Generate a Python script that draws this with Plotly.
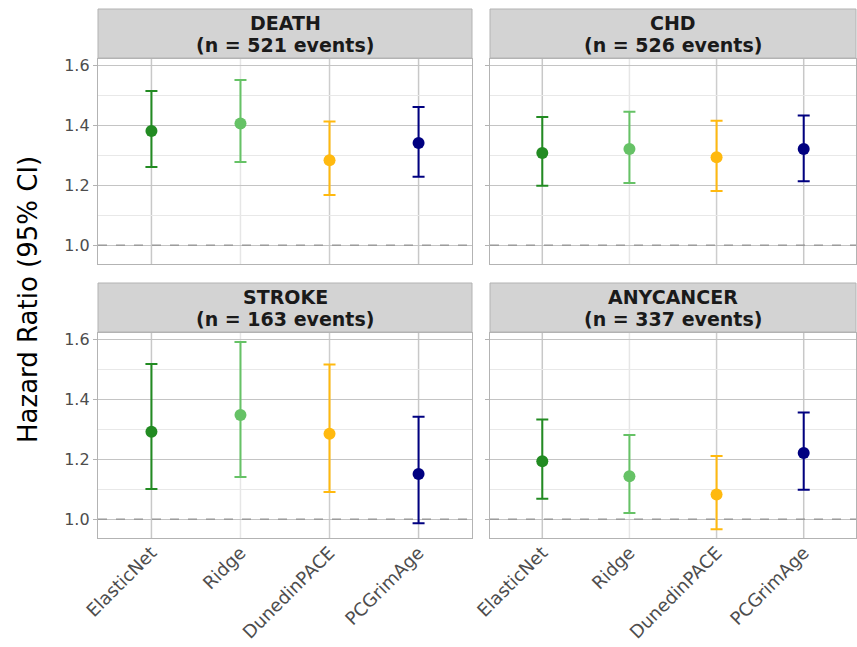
import plotly.graph_objects as go

models = ["ElasticNet", "Ridge", "DunedinPACE", "PCGrimAge"]
colors = ["#228B22", "#66C266", "#FFB90F", "#000080"]
outcomes = ["DEATH", "CHD", "STROKE", "ANYCANCER"]
events = [521, 526, 163, 337]

hr_death = [1.380, 1.405, 1.283, 1.340]
lo_death = [1.260, 1.277, 1.167, 1.228]
hi_death = [1.513, 1.550, 1.412, 1.460]

hr_chd = [1.307, 1.320, 1.293, 1.320]
lo_chd = [1.198, 1.207, 1.180, 1.213]
hi_chd = [1.427, 1.444, 1.414, 1.432]

hr_stroke = [1.291, 1.347, 1.284, 1.150]
lo_stroke = [1.100, 1.140, 1.090, 0.986]
hi_stroke = [1.517, 1.590, 1.515, 1.341]

hr_cancer = [1.193, 1.143, 1.082, 1.220]
lo_cancer = [1.068, 1.020, 0.966, 1.098]
hi_cancer = [1.332, 1.280, 1.210, 1.355]

hrs = [hr_death, hr_chd, hr_stroke, hr_cancer]
los = [lo_death, lo_chd, lo_stroke, lo_cancer]
his = [hi_death, hi_chd, hi_stroke, hi_cancer]

vgrid_colors = ["#c8c8c8", "#e6e6e6", "#cdcdcd", "#c8c8c8"]

W, H = 857, 647
xdom = [(98 / W, 472 / W), (490 / W, 856 / W)]
plot_px = [(59, 264), (333, 538)]
strip_px = [(9, 58), (283, 332)]
line_px = [(23, 45), (297, 319)]

fig = go.Figure()
shapes = []
annotations = []

for k in range(4):
    r, c = divmod(k, 2)
    idx = k + 1
    xa = "x" if idx == 1 else f"x{idx}"
    ya = "y" if idx == 1 else f"y{idx}"
    for m in range(4):
        shapes.append(dict(type="line", xref=xa, yref=f"{ya} domain",
                           x0=m, x1=m, y0=0, y1=1,
                           line=dict(color=vgrid_colors[m], width=1.5),
                           layer="below"))
        fig.add_trace(go.Scatter(
            x=[m], y=[hrs[k][m]], xaxis=xa, yaxis=ya, mode="markers",
            marker=dict(color=colors[m], size=12),
            error_y=dict(type="data", symmetric=False,
                         array=[his[k][m] - hrs[k][m]],
                         arrayminus=[hrs[k][m] - los[k][m]],
                         color=colors[m], thickness=2, width=6),
            showlegend=False, hoverinfo="skip"))
    y0 = 1 - plot_px[r][1] / H
    y1 = 1 - plot_px[r][0] / H
    xkey = "xaxis" if idx == 1 else f"xaxis{idx}"
    ykey = "yaxis" if idx == 1 else f"yaxis{idx}"
    fig.update_layout(**{
        xkey: dict(domain=list(xdom[c]), anchor=ya, range=[-0.6, 3.6],
                   automargin=False,
                   tickmode="array", tickvals=list(range(4)),
                   ticktext=models if r == 1 else [""] * 4,
                   showticklabels=(r == 1), tickangle=-45,
                   ticklabelstandoff=-4,
                   tickfont=dict(size=18, color="#4d4d4d", family="DejaVu Sans"),
                   showgrid=False,
                   zeroline=False, showline=True, linecolor="#b3b3b3",
                   linewidth=1.3, mirror=True, ticks=""),
        ykey: dict(domain=[y0, y1], anchor=xa, range=[0.937, 1.62],
                   automargin=False,
                   tickmode="array", tickvals=[1.0, 1.2, 1.4, 1.6],
                   ticktext=["1.0", "1.2", "1.4", "1.6"],
                   showticklabels=(c == 0),
                   tickfont=dict(size=16, color="#4d4d4d", family="DejaVu Sans"),
                   showgrid=True, gridcolor="#c4c4c4", gridwidth=1.2,
                   minor=dict(tickvals=[1.1, 1.3, 1.5], showgrid=True,
                              gridcolor="#e8e8e8", gridwidth=1.2),
                   zeroline=False, showline=True, linecolor="#b3b3b3",
                   linewidth=1.3, mirror=True, ticks="outside",
                   ticklen=4, tickcolor="#b3b3b3"),
    })
    shapes.append(dict(type="line", xref=f"{xa} domain", yref=ya,
                       x0=0, x1=1, y0=1.0, y1=1.0,
                       line=dict(color="#808080", width=1, dash="dash"),
                       layer="above"))
    sy0 = 1 - strip_px[r][1] / H
    sy1 = 1 - strip_px[r][0] / H
    shapes.append(dict(type="rect", xref="paper", yref="paper",
                       x0=xdom[c][0], x1=xdom[c][1], y0=sy0, y1=sy1,
                       fillcolor="#d3d3d3", line=dict(color="#b3b3b3", width=1)))
    for txt, py in zip([outcomes[k], f"(n = {events[k]} events)"], line_px[r]):
        annotations.append(dict(
            xref="paper", yref="paper", x=(xdom[c][0] + xdom[c][1]) / 2,
            y=1 - py / H, showarrow=False, text=f"<b>{txt}</b>",
            font=dict(size=19, color="#1a1a1a", family="DejaVu Sans"),
            xanchor="center", yanchor="middle"))

annotations.append(dict(
    xref="paper", yref="paper", x=28 / W, y=1 - 300 / H, showarrow=False,
    text="Hazard Ratio (95% CI)", textangle=-90,
    font=dict(size=26, color="black", family="DejaVu Sans"),
    xanchor="center", yanchor="middle"))

fig.update_layout(width=W, height=H, margin=dict(l=0, r=0, t=0, b=0),
                  plot_bgcolor="white", paper_bgcolor="white",
                  shapes=shapes, annotations=annotations)

fig.write_html("out.html")
